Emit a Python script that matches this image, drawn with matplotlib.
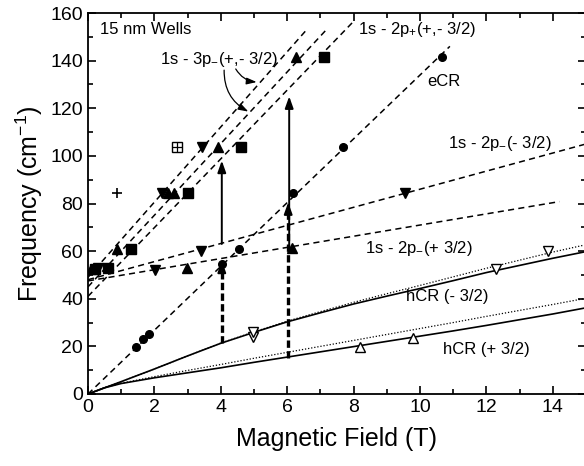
import matplotlib
matplotlib.use("Agg")
import matplotlib.pyplot as plt
import numpy as np

plt.rcParams['font.family'] = ['Liberation Sans', 'DejaVu Sans']
plt.rcParams['mathtext.fontset'] = 'custom'
plt.rcParams['mathtext.rm'] = 'Liberation Sans'
plt.rcParams['mathtext.it'] = 'Liberation Sans:italic'
plt.rcParams['mathtext.default'] = 'regular'

# ---- data ----
# straight dashed fit lines (endpoints)
ecr_x = [0.0, 10.9]
ecr_y = [0.0, 146.0]
p3a_x = [0.0, 6.6]
p3a_y = [49.0, 153.2]
p3b_x = [0.0, 7.2]
p3b_y = [45.0, 153.3]
p2plus_x = [0.0, 8.0]
p2plus_y = [41.0, 156.5]
p2m_minus_x = [0.0, 15.0]
p2m_minus_y = [48.0, 105.0]
p2m_plus_x = [0.0, 14.2]
p2m_plus_y = [47.5, 80.8]

# hole cyclotron resonance curves
hcr_B = [0, 0.5, 1, 2, 3, 4, 5, 6, 7, 8, 9, 10, 11, 12, 13, 14, 15]
hcr_minus = [0, 2.6, 5.2, 10.5, 16.0, 21.3, 25.9, 30.3, 34.1, 37.8, 41.1, 44.3, 47.6, 51.0, 54.0, 57.0, 59.8]
hcr_minus_dot = [0, 2.6, 5.2, 10.5, 16.0, 21.4, 26.1, 30.6, 34.6, 38.5, 42.1, 45.6, 49.2, 52.8, 56.2, 59.6, 62.7]
hcr_plus = [0, 2.6, 4.4, 6.8, 8.9, 11.0, 13.3, 15.5, 17.7, 19.9, 22.1, 24.3, 26.5, 28.8, 31.2, 33.6, 36.2]
hcr_plus_dot = [0, 2.7, 4.5, 7.3, 9.9, 12.4, 15.0, 17.5, 20.0, 22.5, 25.0, 27.5, 30.0, 32.6, 35.1, 37.6, 40.2]

# vertical transition arrows
solid_arrow_x = [4.03, 6.06]
solid_arrow_from = [63.0, 61.0]
solid_arrow_to = [98.0, 125.0]
dash_arrow_x = [4.03, 6.03]
dash_arrow_from = [21.3, 15.3]
dash_arrow_to = [56.0, 80.5]

# data points
sq_x = [0.2, 0.61, 1.29, 3.0, 4.6, 7.12]
sq_y = [52.5, 52.8, 60.8, 84.3, 103.9, 141.7]
tu_x = [0.1, 0.86, 2.42, 2.58, 3.92, 6.28, 2.97, 6.13]
tu_y = [52.5, 60.8, 84.6, 84.6, 103.9, 141.4, 52.8, 61.2]
td_x = [0.3, 2.24, 3.42, 2.02, 3.40, 9.55]
td_y = [53.0, 84.3, 103.9, 52.0, 60.2, 84.3]
ci_x = [1.44, 1.67, 1.84, 4.03, 4.54, 6.18, 7.69, 10.66]
ci_y = [19.6, 23.0, 25.2, 54.5, 60.8, 84.3, 103.7, 141.5]
plus_x = [0.88]
plus_y = [84.3]
boxplus_x = [2.69]
boxplus_y = [103.9]
otd_x = [4.98, 4.98, 12.29, 13.86]
otd_y = [24.1, 26.0, 52.4, 60.2]
otu_x = [8.19, 9.8]
otu_y = [19.9, 23.4]

# ---- figure ----
fig = plt.figure(figsize=(5.84, 4.66), dpi=100)
ax = fig.add_axes([88/584, (466-394)/466, (586-88)/584, (394-13)/466])

dash_kw = dict(color='k', lw=1.1, dashes=(4.0, 2.8))
for xs, ys in [(ecr_x, ecr_y), (p3a_x, p3a_y), (p3b_x, p3b_y), (p2plus_x, p2plus_y),
               (p2m_minus_x, p2m_minus_y), (p2m_plus_x, p2m_plus_y)]:
    ax.plot(xs, ys, **dash_kw)

ax.plot(hcr_B, hcr_minus, color='k', lw=1.2)
ax.plot(hcr_B, hcr_plus, color='k', lw=1.2)
ax.plot(hcr_B, hcr_minus_dot, color='k', lw=0.9, ls=(0, (1, 1.5)))
ax.plot(hcr_B, hcr_plus_dot, color='k', lw=0.9, ls=(0, (1, 1.5)))

for x, y0, y1 in zip(solid_arrow_x, solid_arrow_from, solid_arrow_to):
    ax.annotate('', xy=(x, y1), xytext=(x, y0),
                arrowprops=dict(arrowstyle='-|>,head_length=0.7,head_width=0.25', lw=1.4,
                                color='k', shrinkA=0, shrinkB=0))
for x, y0, y1 in zip(dash_arrow_x, dash_arrow_from, dash_arrow_to):
    ax.plot([x, x], [y0, y1 - 4], color='k', lw=2.4, dashes=(2.2, 1.0))
    ax.annotate('', xy=(x, y1), xytext=(x, y1 - 5),
                arrowprops=dict(arrowstyle='-|>,head_length=0.7,head_width=0.25', lw=1.4,
                                color='k', shrinkA=0, shrinkB=0))

ax.plot(sq_x, sq_y, 's', color='k', ms=6.5, ls='none')
ax.plot(tu_x, tu_y, '^', color='k', ms=7.5, ls='none')
ax.plot(td_x, td_y, 'v', color='k', ms=7.5, ls='none')
ax.plot(ci_x, ci_y, 'o', color='k', ms=5.5, ls='none')
ax.plot(plus_x, plus_y, '+', color='k', ms=7, mew=1.2, ls='none')
ax.plot(boxplus_x, boxplus_y, 's', mfc='white', mec='k', ms=6.5, mew=1.0, ls='none')
ax.plot(boxplus_x, boxplus_y, '+', color='k', ms=6.5, mew=0.9, ls='none')
ax.plot(otd_x, otd_y, 'v', mfc='white', mec='k', ms=7.5, mew=1.0, ls='none')
ax.plot(otu_x, otu_y, '^', mfc='white', mec='k', ms=7.5, mew=1.0, ls='none')

# labels
fs = 12
ax.text(0.36, 153, '15 nm Wells', fontsize=fs, va='center', ha='left')
ax.text(2.17, 140.3, '1s - 3p$_{-}$(+,- 3/2)', fontsize=fs, va='center', ha='left')
ax.text(8.14, 153, '1s - 2p$_{+}$(+,- 3/2)', fontsize=fs, va='center', ha='left')
ax.text(10.23, 131.2, 'eCR', fontsize=fs, va='center', ha='left')
ax.text(10.85, 105, '1s - 2p$_{-}$(- 3/2)', fontsize=fs, va='center', ha='left')
ax.text(8.34, 61.2, '1s - 2p$_{-}$(+ 3/2)', fontsize=fs, va='center', ha='left')
ax.text(9.58, 40.9, 'hCR (- 3/2)', fontsize=fs, va='center', ha='left')
ax.text(10.68, 18.8, 'hCR (+ 3/2)', fontsize=fs, va='center', ha='left')

ax.annotate('', xy=(5.08, 131.0), xytext=(4.45, 136.5),
            arrowprops=dict(arrowstyle='-|>,head_length=0.6,head_width=0.2', lw=0.9, color='k',
                            shrinkA=0, shrinkB=0, connectionstyle='arc3,rad=0.25'))
ax.annotate('', xy=(4.83, 118.6), xytext=(4.1, 136.0),
            arrowprops=dict(arrowstyle='-|>,head_length=0.6,head_width=0.2', lw=0.9, color='k',
                            shrinkA=0, shrinkB=0, connectionstyle='arc3,rad=0.3'))

ax.set_xlim(0, 15)
ax.set_ylim(0, 160)
ax.set_xticks(np.arange(0, 15, 2))
ax.set_xticks(np.arange(1, 16, 2), minor=True)
ax.set_yticks(np.arange(0, 161, 20))
ax.set_yticks(np.arange(10, 160, 20), minor=True)
ax.tick_params(which='both', direction='in', top=True, right=True, labelsize=14, width=1.2)
ax.tick_params(which='major', length=6)
ax.tick_params(which='minor', length=3.5)
for s in ax.spines.values():
    s.set_linewidth(1.3)
ax.set_xlabel('Magnetic Field (T)', fontsize=18, labelpad=8)
ax.set_ylabel('Frequency (cm$^{-1}$)', fontsize=18, labelpad=4)

fig.savefig('out.png', dpi=100)
